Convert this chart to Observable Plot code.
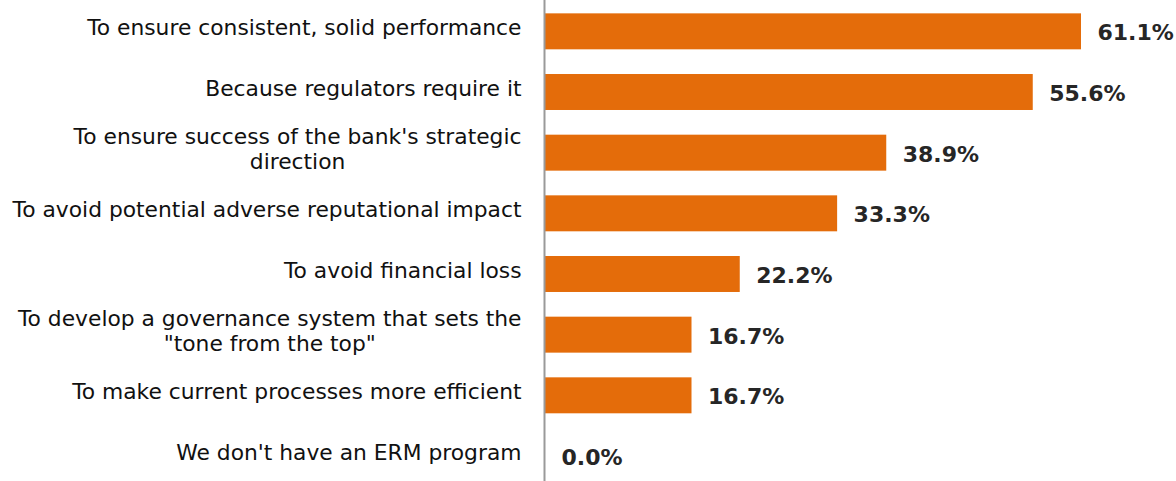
<!DOCTYPE html>
<html>
<head>
<meta charset="utf-8">
<script src="https://cdn.jsdelivr.net/npm/d3@7"></script>
<script src="https://cdn.jsdelivr.net/npm/@observablehq/plot@0.6"></script>
<style>
  html, body { margin: 0; padding: 0; background: #fff; overflow: hidden; }
</style>
</head>
<body>
<div id="chart"></div>
<script>
const categories = [
  "To ensure consistent, solid performance",
  "Because regulators require it",
  "To ensure success of the bank's strategic\ndirection",
  "To avoid potential adverse reputational impact",
  "To avoid financial loss",
  "To develop a governance system that sets the\n\"tone from the top\"",
  "To make current processes more efficient",
  "We don't have an ERM program"
];
const values = [61.1, 55.6, 38.9, 33.3, 22.2, 16.7, 16.7, 0.0];

const labelFont = "DejaVu Sans";
const labelSize = 21.8;
const rows = categories.map((c, i) => {
  const parts = c.split("\n");
  return {label: c, value: values[i], line1: parts[0], line2: parts[1] || null};
});

const ctx = document.createElement("canvas").getContext("2d");
ctx.font = `${labelSize}px "${labelFont}"`;

const labelGap = 24;
const single = rows.filter(d => !d.line2);
const double = rows.filter(d => d.line2);

const marks = [
  Plot.barX(rows, {x: "value", y: "label", fill: "#E46C0A"}),
  Plot.ruleX([0], {stroke: "#9a9a9a", strokeWidth: 2, dx: -1}),
  Plot.text(rows, {
    x: "value", y: "label", text: d => d.value.toFixed(1) + "%",
    textAnchor: "start", dx: 16, dy: 1.5, fontSize: 22, fontWeight: "bold", fill: "#262626"
  }),
  Plot.text(single, {
    x: () => 0, y: "label", text: "line1", textAnchor: "end",
    dx: -labelGap, dy: -3.6, fontSize: labelSize, fill: "#111"
  }),
  Plot.text(double, {
    x: () => 0, y: "label", text: "line1", textAnchor: "end",
    dx: -labelGap, dy: -15.9, fontSize: labelSize, fill: "#111"
  })
];
for (const d of double) {
  const w = ctx.measureText(d.line1).width;
  marks.push(Plot.text([d], {
    x: () => 0, y: "label", text: "line2", textAnchor: "middle",
    dx: -labelGap - w / 2, dy: 8.6, fontSize: labelSize, fill: "#111"
  }));
}

const chart = Plot.plot({
  width: 1176,
  height: 481,
  marginLeft: 545,
  marginRight: 95,
  marginTop: 0,
  marginBottom: 0,
  x: {domain: [0, 61.1], axis: null},
  y: {domain: categories, axis: null, paddingInner: 0.407, paddingOuter: 0.168, align: 0.655, round: false},
  style: {fontFamily: `"${labelFont}"`, background: "#fff", overflow: "visible"},
  marks
});
document.getElementById("chart").appendChild(chart);
</script>
</body>
</html>
